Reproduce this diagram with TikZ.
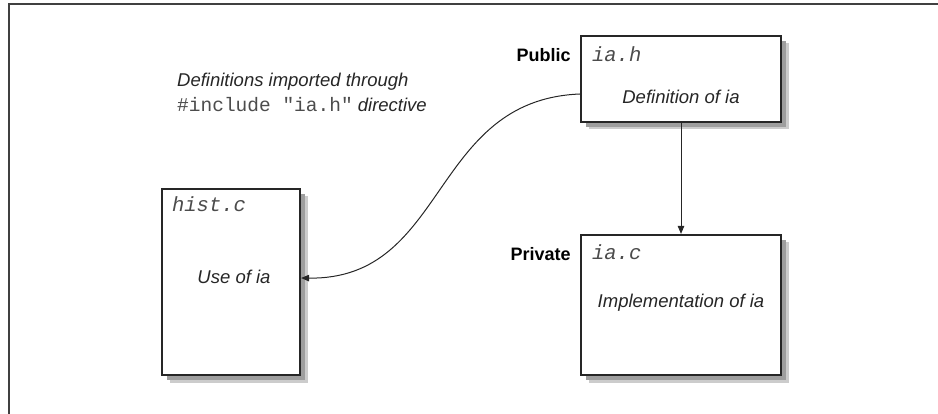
\documentclass[tikz,border=0pt]{standalone}
\usepackage{fontspec}
\setmainfont{Liberation Sans}
\setmonofont{Liberation Mono}
\usetikzlibrary{arrows.meta, positioning, shadows}

\begin{document}
\begin{tikzpicture}[
    x=1pt, y=-1pt,
    module/.style={draw=black!85, line width=2.2pt, fill=white, inner sep=0pt,
      drop shadow={shadow xshift=7.5pt, shadow yshift=-7.5pt, fill=black!20, opacity=1},
      drop shadow={shadow xshift=5pt, shadow yshift=-5pt, fill=black!38, opacity=1}},
    fname/.style={font=\fontsize{20.5}{22}\selectfont\ttfamily\itshape,
      text=black!70, anchor=west, inner sep=0pt},
    desc/.style={font=\fontsize{18.5}{25}\selectfont\itshape, text=black!85},
    tag/.style={font=\fontsize{18}{22}\selectfont\bfseries, anchor=east, inner sep=0pt},
    arr/.style={-{Triangle[length=8pt, width=6.5pt]}, line width=1pt, black!85}
  ]
    \useasboundingbox (0,0) rectangle (938,414);
    \draw[line width=1.6pt, black!75] (9,414) -- (9,4) -- (938,4);

    % the three files
    \node[module, minimum width=200pt, minimum height=86pt] (iah) at (681,79) {};
    \node[module, minimum width=200pt, minimum height=140pt] (iac) at (681,305) {};
    \node[module, minimum width=138pt, minimum height=186pt] (hist) at (231,282) {};

    \node[fname] (iahname) at ([shift={(12pt,-19pt)}]iah.north west) {ia.h};
    \node[fname] (iacname) at ([shift={(12pt,-18pt)}]iac.north west) {ia.c};
    \node[fname] (histname) at ([shift={(11pt,-16pt)}]hist.north west) {hist.c};

    \node[tag] (pub) at ([shift={(-9pt,-20pt)}]iah.north west) {Public};
    \node[tag] (priv) at ([shift={(-9pt,-20pt)}]iac.north west) {Private};

    \node[desc] (iahdesc) at ([yshift=-18pt]iah.center) {Definition of ia};
    \node[desc] (iacdesc) at ([yshift=2pt]iac.center) {Implementation of ia};
    \node[desc] (histdesc) at ([shift={(3pt,5pt)}]hist.center) {Use of ia};

    \node[desc, anchor=north west, align=left, inner sep=0pt] (note) at (177,73)
      {Definitions imported through\\{\upshape\ttfamily\fontsize{19.5}{25}\selectfont\color{black!70}\#include "ia.h"} directive};

    % connectors
    \draw[arr] (iah) -- (iac);
    \draw[arr] ([yshift=-15pt]iah.west) .. controls +(-150,6) and +(147,2) .. ([yshift=4pt]hist.east);
\end{tikzpicture}
\end{document}
